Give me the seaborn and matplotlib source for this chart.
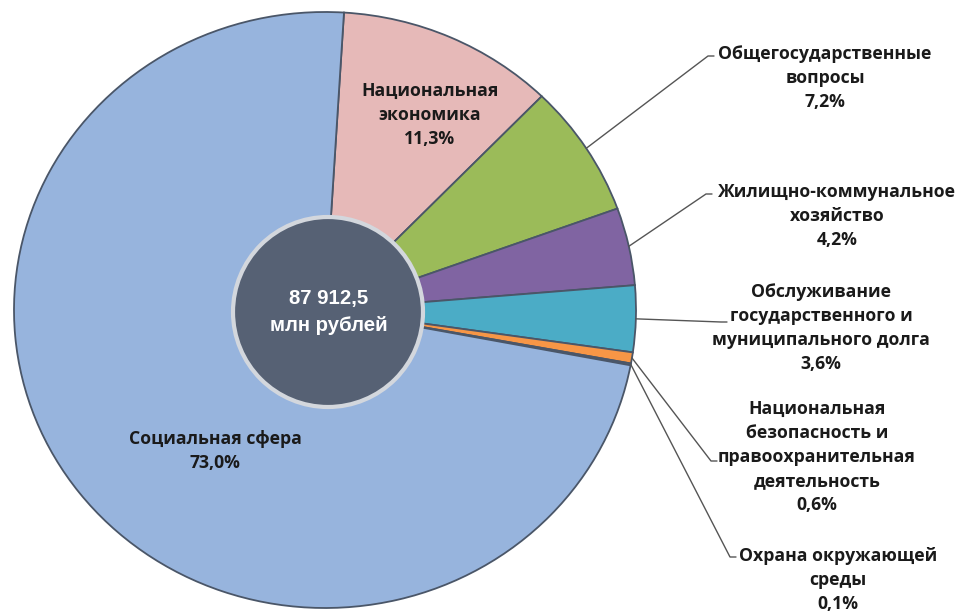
import matplotlib
matplotlib.use("Agg")
import matplotlib.pyplot as plt
import matplotlib.transforms as mtransforms
from matplotlib.patches import Circle
import numpy as np
import seaborn as sns

# budget structure, clockwise from the top
categories = [
    "Национальная\nэкономика",
    "Общегосударственные\nвопросы",
    "Жилищно-коммунальное\nхозяйство",
    "Обслуживание\nгосударственного и\nмуниципального долга",
    "Национальная\nбезопасность и\nправоохранительная\nдеятельность",
    "Охрана окружающей\nсреды",
    "Социальная сфера",
]
shares = [11.3, 7.2, 4.2, 3.6, 0.6, 0.1, 73.0]
share_labels = ["11,3%", "7,2%", "4,2%", "3,6%", "0,6%", "0,1%", "73,0%"]
colors = ["#e6b9b8", "#9bbb59", "#8064a2", "#4bacc6", "#f79646", "#fbe5d6", "#97b4dd"]
total_label = "87 912,5\nмлн рублей"

sns.set_theme(style="white")
plt.rcParams['font.family'] = ['Open Sans', 'DejaVu Sans']

H = 611
fig = plt.figure(figsize=(9.61, 6.11), dpi=100)
ax = fig.add_axes([0, 0, 1, 1])

# pie is a bit wider than tall in the original (3d look)
cx, cy, rx, ry = 325, H - 310, 311, 298
wedges, _ = ax.pie(shares, colors=colors, startangle=86.5, counterclock=False,
                   center=(0, 0), radius=1,
                   wedgeprops=dict(edgecolor="#4a5668", linewidth=1.3))
tr = mtransforms.Affine2D().scale(rx, ry).translate(cx, cy) + ax.transData
for w in wedges:
    w.set_transform(tr)

ax.set_xlim(0, 961)
ax.set_ylim(0, H)
ax.set_aspect('auto')
ax.axis('off')

# centre disc with total
ax.add_patch(Circle((328, H - 312), 95, facecolor="#566174", edgecolor="#d3d7dd",
                    linewidth=3, zorder=3))
ax.text(329, H - 312, total_label, ha="center", va="center", color="white",
        fontsize=14.7, fontweight="bold", family=['Liberation Sans', 'DejaVu Sans'],
        linespacing=1.55, zorder=4)

lab_kw = dict(ha="center", va="center", fontsize=12.7, fontweight="bold",
              color="#1a1a1a", linespacing=1.42)

# labels inside the pie
ax.text(430, H - 115, categories[0] + "\n" + share_labels[0], **lab_kw)
ax.text(215, H - 451, categories[6] + "\n" + share_labels[6], **lab_kw)

# outer labels: text centre, elbow point of the leader line
outer = {
    1: ((825, H - 78), (708, H - 56)),
    2: ((837, H - 216), (706, H - 194)),
    3: ((821, H - 328), (721, H - 322)),
    4: ((817, H - 457), (711, H - 461)),
    5: ((838, H - 580), (730, H - 557)),
}
for i, ((tx, ty), (ex, ey)) in outer.items():
    w = wedges[i]
    th = np.deg2rad((w.theta1 + w.theta2) / 2)
    sx, sy = cx + rx * np.cos(th), cy + ry * np.sin(th)
    ax.plot([sx, ex, ex + 6], [sy, ey, ey], color="#555555", lw=1, zorder=2)
    ax.text(tx, ty, categories[i] + "\n" + share_labels[i], **lab_kw)

fig.savefig("out.png", dpi=100)
